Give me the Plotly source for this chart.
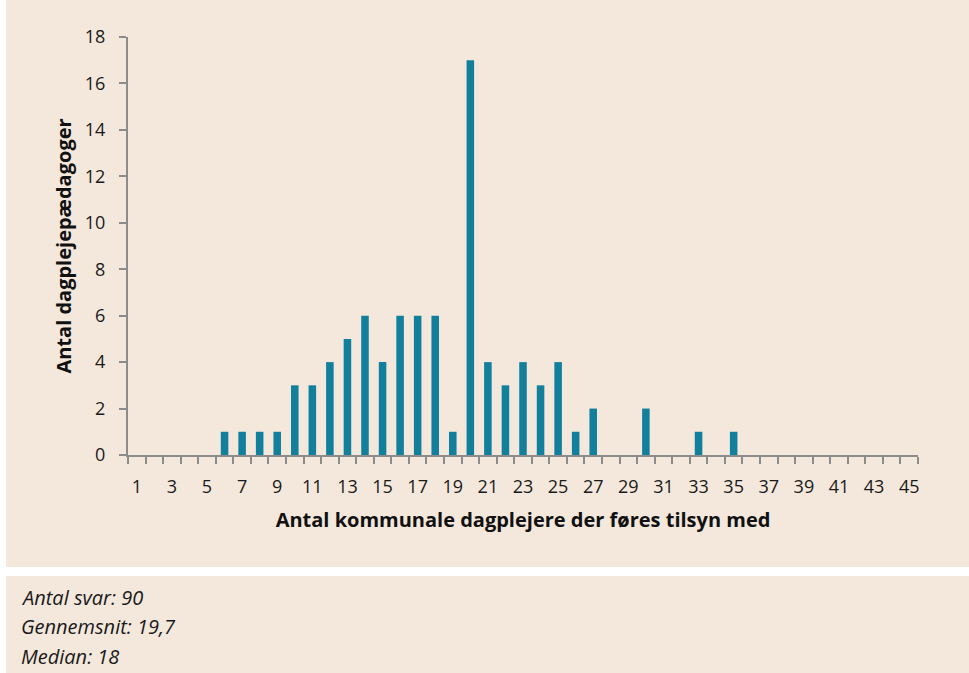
import plotly.graph_objects as go

categories = list(range(1, 46))
values = [0, 0, 0, 0, 0, 1, 1, 1, 1, 3,
          3, 4, 5, 6, 4, 6, 6, 6, 1, 17,
          4, 3, 4, 3, 4, 1, 2, 0, 0, 2,
          0, 0, 1, 0, 1, 0, 0, 0, 0, 0,
          0, 0, 0, 0, 0]
x_ticks = list(range(1, 46, 2))
y_ticks = list(range(0, 19, 2))
notes = ["Antal svar: 90", "Gennemsnit: 19,7", "Median: 18"]

W, H = 969, 673
L, R, T, B = 128, 918, 37, 455

BG = "#F4E8DC"
BAR = "#12809C"
AX = "#8C8C8C"
FONT = "Open Sans, Noto Sans, sans-serif"

def px(x):
    return (x - L) / (R - L)

def py(y):
    return (B - y) / (B - T)

fig = go.Figure(go.Bar(x=categories, y=values, marker_color=BAR, marker_line_width=0))

note_annotations = [
    dict(xref="paper", yref="paper", x=px(19), y=py(597 + 29.5 * i), xanchor="left", yanchor="middle",
         align="left", showarrow=False, text="<i>%s</i>" % n,
         font=dict(family=FONT, size=20, color="#1a1a1a"))
    for i, n in enumerate(notes)
]

fig.update_layout(
    width=W, height=H,
    margin=dict(l=L, r=W - R, t=T, b=H - B, pad=0),
    paper_bgcolor="white",
    plot_bgcolor="rgba(0,0,0,0)",
    bargap=0.57,
    showlegend=False,
    font=dict(family=FONT, size=18, color="#1a1a1a"),
    shapes=[
        dict(type="rect", xref="paper", yref="paper", layer="below",
             x0=px(6), x1=px(969), y0=py(0), y1=py(567),
             fillcolor=BG, line_width=0),
        dict(type="rect", xref="paper", yref="paper", layer="below",
             x0=px(6), x1=px(969), y0=py(576), y1=py(673),
             fillcolor=BG, line_width=0),
    ],
    annotations=note_annotations,
)

fig.update_xaxes(
    range=[0.5, 45.5],
    tickmode="array", tickvals=x_ticks, ticktext=[str(v) for v in x_ticks],
    ticks="", showgrid=False, zeroline=False,
    showline=True, linecolor=AX, linewidth=2,
    tickfont=dict(size=18, color="#1a1a1a"),
    ticklabelstandoff=14,
    minor=dict(tickmode="linear", tick0=0.5, dtick=1, ticks="outside",
               ticklen=7, tickcolor=AX, tickwidth=2, showgrid=False),
    title=dict(text="<b>Antal kommunale dagplejere der føres tilsyn med</b>",
               font=dict(size=20, color="#111"), standoff=16),
)

fig.update_yaxes(
    range=[0, 18],
    tickmode="array", tickvals=y_ticks,
    ticks="outside", ticklen=7, tickcolor=AX, tickwidth=2,
    showgrid=False, zeroline=False,
    showline=True, linecolor=AX, linewidth=2,
    tickfont=dict(size=18, color="#1a1a1a"),
    ticklabelstandoff=10,
    title=dict(text="<b>Antal dagplejepædagoger</b>",
               font=dict(size=20, color="#111"), standoff=8),
)

fig.write_html("out.html", config={"displayModeBar": False},
               post_script="document.body.style.margin='0';")
